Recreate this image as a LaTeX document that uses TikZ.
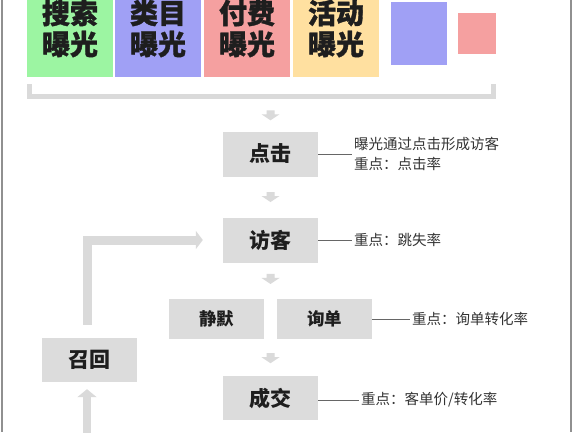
\documentclass[tikz,border=0pt]{standalone}
\usepackage{fontspec}
\setmainfont{Noto Sans CJK SC}
\newfontfamily\heavyfont[BoldFeatures={FakeBold=1.2}]{Noto Sans CJK SC}
\usetikzlibrary{arrows.meta,calc}
\definecolor{cgreen}{HTML}{9CF5A2}
\definecolor{cblue}{HTML}{A0A0F5}
\definecolor{cred}{HTML}{F5A0A0}
\definecolor{cyellow}{HTML}{FFE0A0}
\definecolor{boxgray}{HTML}{DCDCDC}
\definecolor{arrgray}{HTML}{DADADA}
\definecolor{txt}{HTML}{1E1E1E}
\definecolor{notetxt}{HTML}{333333}
\definecolor{conncol}{HTML}{666666}
\definecolor{bordercol}{HTML}{909090}
\begin{document}
\begin{tikzpicture}[x=1pt,y=-1pt,
  box/.style={fill=boxgray, minimum width=95pt, minimum height=45pt, inner sep=0pt,
    font=\fontsize{21}{24}\selectfont\bfseries, text=txt},
  smallbox/.style={box, minimum height=40pt, font=\fontsize{17.5}{20}\selectfont\bfseries},
  topbox/.style={minimum width=86pt, minimum height=97pt, inner sep=0pt, align=center,
    font=\heavyfont\fontsize{28}{31}\selectfont\bfseries, text=txt},
  note/.style={anchor=west, inner sep=2pt, text=notetxt, align=left,
    font=\fontsize{14.5}{20}\selectfont},
  conn/.style={draw=conncol, line width=1pt},
  fat/.style={draw=arrgray, line width=9pt, line join=miter},
  darr/.pic={\fill[arrgray] (-4,-5) -- (4,-5) -- (4,-1) -- (9,-1) -- (0,5) -- (-9,-1) -- (-4,-1) -- cycle;}
]
\clip (0,0) rectangle (576,432);
\useasboundingbox (0,0) rectangle (576,432);
\fill[white] (0,0) rectangle (576,432);

% top category boxes
\node[topbox, fill=cgreen]  (t1) at (70,28.5)  {搜索\\曝光};
\node[topbox, fill=cblue]   (t2) at (158,28.5) {类目\\曝光};
\node[topbox, fill=cred]    (t3) at (247,28.5) {付费\\曝光};
\node[topbox, fill=cyellow] (t4) at (336,28.5) {活动\\曝光};
\node[fill=cblue, minimum width=56pt, minimum height=63pt, inner sep=0pt] (sq1) at (419,33.5) {};
\node[fill=cred, minimum width=38pt, minimum height=41pt, inner sep=0pt] (sq2) at (477,33.5) {};

% bracket
\coordinate (bl) at (29.5,84);
\coordinate (br) at (493.5,84);
\draw[draw=arrgray, line width=5pt, line join=miter] (bl) |- ($(br)+(0,12.5)$) -- (br);

% flow boxes
\node[box] (click) at (270.5,154) {点击};
\node[box] (visit) at (270.5,240) {访客};
\node[smallbox] (silent) at (216.5,319) {静默};
\node[smallbox] (ask) at (324.5,319) {询单};
\node[box, minimum height=44pt] (deal) at (270.5,398) {成交};
\node[box, minimum height=44pt] (recall) at (89.5,360) {召回};

% small down arrows
\pic at ($(click.north)+(0,-16)$) {darr};
\pic at ($(click.south)!0.5!(visit.north)$) {darr};
\pic at ($(visit.south)!0.45!(visit.south |- ask.north)$) {darr};
\pic at ($(deal.north |- ask.south)!0.52!(deal.north)$) {darr};

% notes
\node[note] (n1) at (352,154) {曝光通过点击形成访客\\重点：点击率};
\node[note] (n2) at (352,240) {重点：跳失率};
\node[note] (n3) at (410,319) {重点：询单转化率};
\node[note] (n4) at (359,400) {重点：客单价/转化率};
\draw[conn] (click.east) -- (n1.west);
\draw[conn] (visit.east) -- (n2.west);
\draw[conn] (ask.east) -- (n3.west);
\draw[conn] (deal.east |- n4.west) -- (n4.west);

% recall loop arrows
\draw[fat, -{Triangle[width=18pt,length=7pt]}] ($(recall.north)+(-2.5,-13)$) |- ($(visit.west)+(-20,0)$);
\draw[fat, line width=8pt, -{Triangle[width=19pt,length=8pt]}] ($(recall.south)+(-2.5,70)$) -- ($(recall.south)+(-2.5,7)$);

% side borders
\draw[bordercol, line width=1.5pt] (2,0) -- (2,432);
\draw[bordercol, line width=1.5pt] (571,0) -- (571,432);
\end{tikzpicture}
\end{document}
